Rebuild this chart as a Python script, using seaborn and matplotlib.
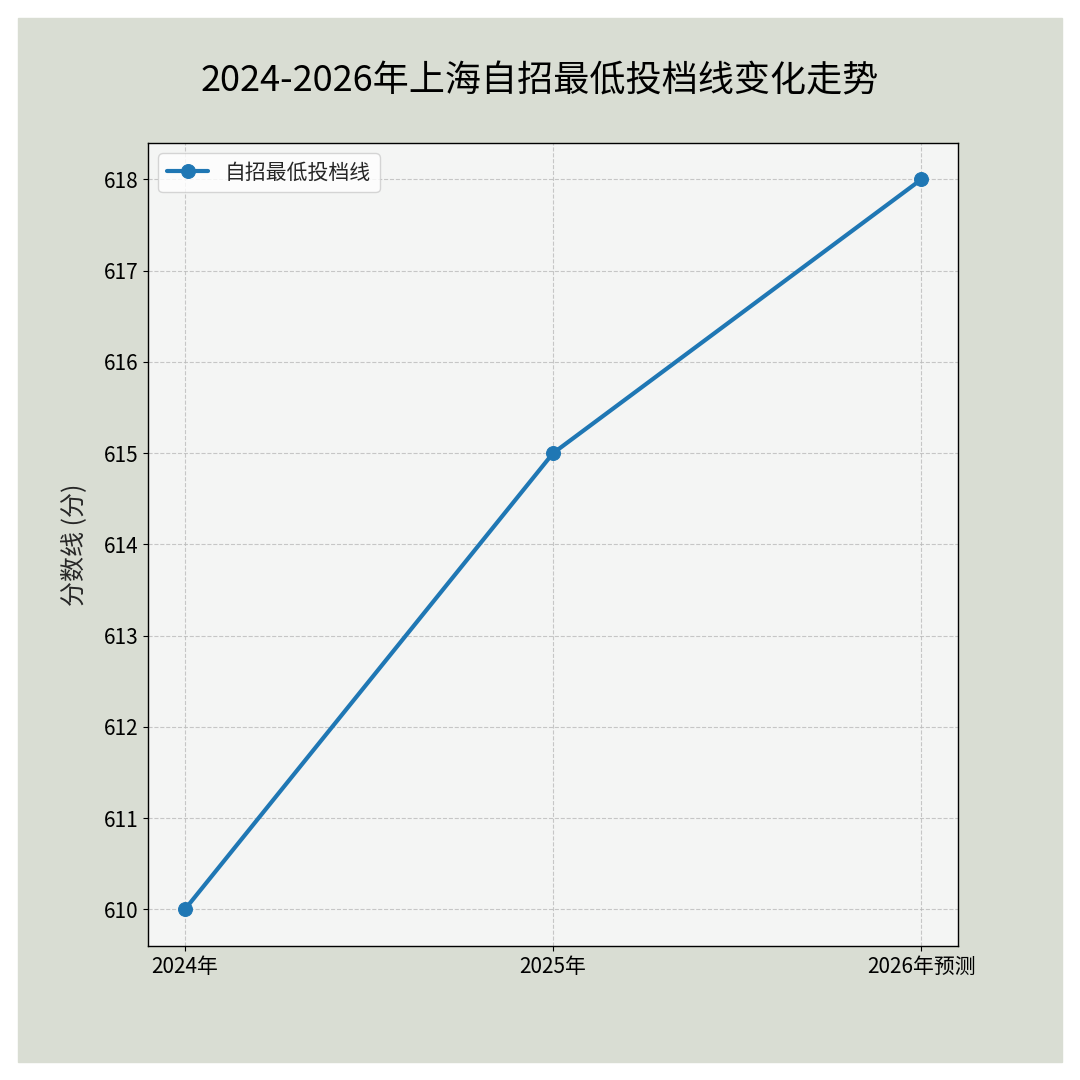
import matplotlib
matplotlib.use("Agg")
import matplotlib.pyplot as plt
import seaborn as sns
import pandas as pd
from matplotlib.patches import Rectangle

years = ["2024年", "2025年", "2026年预测"]
scores = [610, 615, 618]
series_name = "自招最低投档线"

sns.set_style("ticks")
plt.rcParams['font.family'] = ['Noto Sans CJK SC', 'DejaVu Sans']

df = pd.DataFrame({"year": years, "score": scores})

fig = plt.figure(figsize=(10.8, 10.8), dpi=100)
# 背景照片的近似：浅灰绿色块
bg = Rectangle((18 / 1080, 18 / 1080), 1044 / 1080, 1044 / 1080,
               transform=fig.transFigure, color="#d9ddd3", zorder=-10)
fig.add_artist(bg)
ax = fig.add_axes([148 / 1080, 134 / 1080, 810 / 1080, 803 / 1080])
ax.set_zorder(5)
ax.set_facecolor((0.98, 0.98, 0.98, 0.85))

sns.lineplot(data=df, x="year", y="score", ax=ax, marker="o", markersize=10,
             linewidth=3, color="#1f77b4", markeredgecolor="#1f77b4",
             label=series_name, sort=False)

ax.set_ylim(609.6, 618.4)
ax.set_xlim(-0.1, 2.1)
ax.grid(True, linestyle="--", color="#bbbbbb", alpha=0.8)
ax.set_xlabel("")
ax.set_ylabel("分数线 (分)", fontsize=18, labelpad=12)
ax.tick_params(labelsize=15, colors="black")
for s in ax.spines.values():
    s.set_color("black")
    s.set_linewidth(1)
ax.legend(loc="upper left", fontsize=15, frameon=True, markerscale=1.0)
fig.text(0.5, 0.925, "2024-2026年上海自招最低投档线变化走势", ha="center", va="center",
         fontsize=26, color="black")

fig.savefig("out.png", dpi=100)
